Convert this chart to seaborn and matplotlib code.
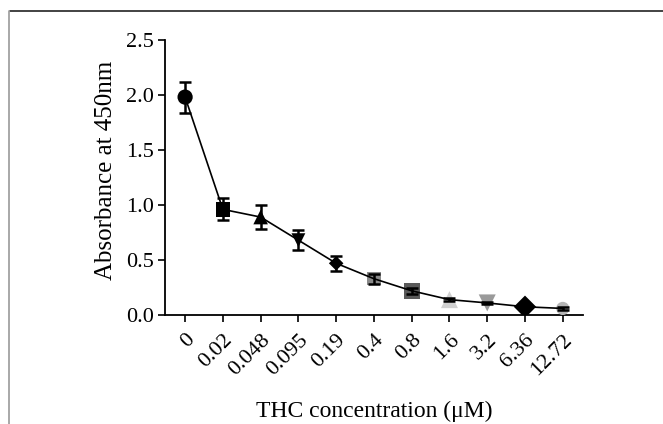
import matplotlib
matplotlib.use("Agg")
import matplotlib.pyplot as plt
import seaborn as sns
import numpy as np
import pandas as pd
from matplotlib.lines import Line2D

categories = ["0", "0.02", "0.048", "0.095", "0.19", "0.4", "0.8", "1.6", "3.2", "6.36", "12.72"]
absorbance = [1.98, 0.96, 0.89, 0.68, 0.47, 0.33, 0.22, 0.14, 0.11, 0.075, 0.06]
errors = [0.14, 0.10, 0.11, 0.09, 0.07, 0.045, 0.03, 0.015, 0.012, 0.01, 0.01]
markers = ["o", "s", "^", "v", "D", "s", "s", "^", "v", "D", "o"]
marker_colors = ["black", "black", "black", "black", "black", "#8a8a8a", "#5a5a5a", "#d0d0d0", "#9a9a9a", "black", "#b5b5b5"]
marker_sizes = [120, 110, 110, 100, 55, 90, 130, 150, 150, 130, 90]

sns.set_style("ticks")
plt.rcParams["font.family"] = ["Liberation Serif", "DejaVu Serif"]

fig = plt.figure(figsize=(6.63, 4.24), dpi=100)
ax = fig.add_axes([0.249, 0.257, 0.630, 0.649])

pos = np.arange(len(categories))
df = pd.DataFrame({"pos": pos, "abs": absorbance})

# markers
for i in range(len(categories)):
    sns.scatterplot(x=[pos[i]], y=[absorbance[i]], marker=markers[i], s=marker_sizes[i],
                    color=marker_colors[i], edgecolor="none", ax=ax, zorder=3, legend=False)

# connecting line
sns.lineplot(data=df, x="pos", y="abs", color="black", lw=1.2, ax=ax, zorder=4, legend=False)

# error bars
ax.errorbar(pos, absorbance, yerr=errors, fmt="none", ecolor="black", elinewidth=1.8,
            capsize=4, capthick=1.8, zorder=5)

ax.set_xlim(-0.53, 10.53)
ax.set_ylim(0, 2.5)
ax.set_yticks([0, 0.5, 1.0, 1.5, 2.0, 2.5])
ax.set_yticklabels(["0.0", "0.5", "1.0", "1.5", "2.0", "2.5"])
ax.set_xticks(pos)
ax.set_xticklabels(categories, rotation=45, ha="right", rotation_mode="anchor")

ax.tick_params(axis="both", labelsize=16, width=1.2, length=5, color="black", labelcolor="black")
ax.tick_params(axis="x", pad=6)
ax.tick_params(axis="y", pad=3)
for side in ["left", "bottom"]:
    ax.spines[side].set_linewidth(1.3)
    ax.spines[side].set_color("black")
for side in ["top", "right"]:
    ax.spines[side].set_visible(False)

ax.set_ylabel("Absorbance at 450nm", fontsize=18, color="black")
ax.yaxis.set_label_coords(-0.115, 0.525)
ax.set_xlabel("THC concentration (μM)", fontsize=17, color="black")
ax.xaxis.set_label_coords(0.5, -0.31)

# page frame lines visible in the reference
fig.add_artist(Line2D([10 / 663, 1.0], [1 - 11 / 424, 1 - 11 / 424], transform=fig.transFigure,
                      color="#222222", lw=1.2))
fig.add_artist(Line2D([9 / 663, 9 / 663], [0, 1 - 11 / 424], transform=fig.transFigure,
                      color="#999999", lw=1.2))

fig.savefig("out.png", dpi=100)
